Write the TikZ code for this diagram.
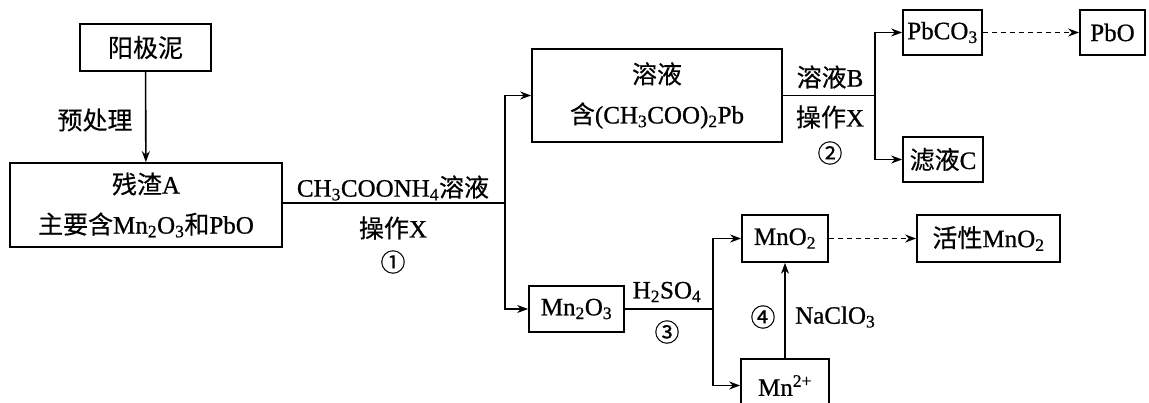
\documentclass[tikz,border=0pt]{standalone}
\usepackage{fontspec}
\setmainfont{Liberation Serif}[FakeBold=0.8]
\newfontfamily\cjk{Noto Sans CJK SC}[FakeBold=0.4]
\usetikzlibrary{arrows.meta}
\newcommand\sbs[1]{\textsubscript{#1}}
\begin{document}
\begin{tikzpicture}[x=1pt,y=-1pt,
  font=\fontsize{25}{40}\selectfont,
  box/.style={draw,line width=1.7pt,inner sep=0pt,align=center},
  conn/.style={line width=1.6pt},
  arr/.style={conn,-{Stealth[length=11pt,width=8pt]}},
  darr/.style={arr,dash pattern=on 5pt off 4pt},
  lab/.style={inner sep=0pt}]
\useasboundingbox (0,0) rectangle (1149,403);
% boxes
\node[box,minimum width=131pt,minimum height=47pt] (yjn) at (145.5,47.5) {\cjk 阳极泥};
\node[box,minimum width=272pt,minimum height=84pt] (A) at (146,205) {{\cjk 残渣}A\\{\cjk 主要含}Mn\sbs{2}O\sbs{3}{\cjk 和}PbO};
\node[box,minimum width=250pt,minimum height=93pt] (sol) at (657,95.5) {{\cjk 溶液}\\{\cjk 含}(CH\sbs{3}COO)\sbs{2}Pb};
\node[box,minimum width=79pt,minimum height=45pt] (pbco) at (942.5,32.5) {PbCO\sbs{3}};
\node[box,minimum width=65pt,minimum height=45pt] (pbo) at (1112.5,32.5) {PbO};
\node[box,minimum width=80pt,minimum height=45pt] (filt) at (943,159.5) {{\cjk 滤液}C};
\node[box,minimum width=95pt,minimum height=46pt] (mnoo) at (576.5,309) {Mn\sbs{2}O\sbs{3}};
\node[box,minimum width=86pt,minimum height=47pt] (mno2) at (785,238.5) {MnO\sbs{2}};
\node[box,minimum width=143pt,minimum height=47pt] (act) at (988.5,238.5) {{\cjk 活性}MnO\sbs{2}};
\node[box,minimum width=88pt,minimum height=53pt] (mn2) at (785,385.5) {Mn\textsuperscript{2+}};
% junctions
\coordinate (j1) at (505,203);
\coordinate (j2) at (875,95.5);
\coordinate (j3) at (713,309);
% connectors
\draw[arr] (yjn) -- (A);
\draw[conn] (j1 -| A.east) -- (j1);
\draw[arr] (j1) |- (sol.west);
\draw[arr] (j1) |- (mnoo.west);
\draw[conn] (sol.east) -- (j2);
\draw[arr] (j2) |- (pbco.west);
\draw[arr] (j2) |- (filt.west);
\draw[darr] (pbco) -- (pbo);
\draw[conn] (mnoo.east) -- (j3);
\draw[arr] (j3) |- (mno2.west);
\draw[arr] (j3) |- (mn2.west);
\draw[arr] (mn2) -- (mno2);
\draw[darr] (mno2) -- (act);
% labels
\node[lab] (l0) at (95,120) {\cjk 预处理};
\node[lab] (l1a) at (393,188) {CH\sbs{3}COONH\sbs{4}{\cjk 溶液}};
\node[lab] (l1b) at (393,228) {{\cjk 操作}X};
\node[lab] (l1c) at (393,262) {\cjk ①};
\node[lab] (l2a) at (830,77) {{\cjk 溶液}B};
\node[lab] (l2b) at (830,117) {{\cjk 操作}X};
\node[lab] (l2c) at (830,153) {\cjk ②};
\node[lab] (l3a) at (667,292) {H\sbs{2}SO\sbs{4}};
\node[lab] (l3b) at (667,332) {\cjk ③};
\node[lab] (l4a) at (763,317) {\cjk ④};
\node[lab,anchor=west] (l4b) at (795,317) {NaClO\sbs{3}};
\end{tikzpicture}
\end{document}
